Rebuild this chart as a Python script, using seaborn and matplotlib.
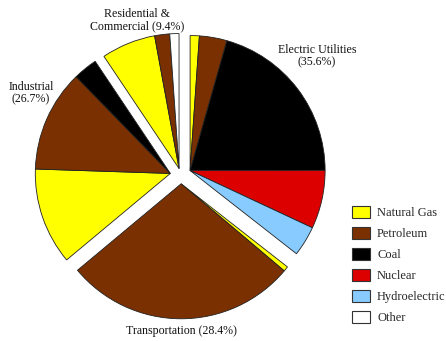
import numpy as np
import matplotlib
matplotlib.use("Agg")
import matplotlib.pyplot as plt
from matplotlib.patches import Patch
import seaborn as sns

sns.set_theme(style="white")
plt.rcParams['font.family'] = ['Liberation Serif', 'DejaVu Serif']

# ---- data ----
sources = ["Natural Gas", "Petroleum", "Coal", "Nuclear", "Hydroelectric", "Other"]
source_colors = ["#FFFF00", "#7A3000", "#000000", "#DD0000", "#88CCFF", "#FFFFFF"]

sectors = ["Electric Utilities", "Transportation", "Industrial", "Residential & Commercial"]
sector_labels = ["Electric Utilities\n(35.6%)", "Transportation (28.4%)",
                 "Industrial\n(26.7%)", "Residential &\nCommercial (9.4%)"]
electric = [1.1, 3.3, 20.6, 7.0, 3.6, 0.0]
transportation = [0.6, 27.8, 0.0, 0.0, 0.0, 0.0]
industrial = [11.6, 12.2, 2.9, 0.0, 0.0, 0.0]
residential = [6.5, 1.8, 0.0, 0.0, 0.0, 1.1]
sector_values = [electric, transportation, industrial, residential]

# ---- figure ----
W, H = 446, 341
fig = plt.figure(figsize=(W / 100, H / 100), dpi=100)
ax = fig.add_axes([0, 0, 1, 1])
R = 135.0
cx, cy = 181.0, 175.0

vals, cols, parent = [], [], []
for si, sv in enumerate(sector_values):
    for j, v in enumerate(sv):
        if v > 0:
            vals.append(v)
            cols.append(source_colors[j])
            parent.append(si)

wedges, _ = ax.pie(vals, colors=cols, startangle=90, counterclock=False,
                   radius=1.0, center=(0, 0), frame=True,
                   wedgeprops=dict(edgecolor="#222222", linewidth=0.6))
ax.set_xlim(-cx / R, (W - cx) / R)
ax.set_ylim(-(H - cy) / R, cy / R)
ax.set_axis_off()

# explode each sector as a group
totals = [sum(s) for s in sector_values]
grand = sum(totals)
mids = []
cum = 0.0
for t in totals:
    mids.append(np.deg2rad(90 - 360 * (cum + t / 2) / grand))
    cum += t
explode = [0.075, 0.065, 0.08, 0.05]
for w, p in zip(wedges, parent):
    d = explode[p]
    w.set_center((d * np.cos(mids[p]), d * np.sin(mids[p])))

# sector labels (pixel positions)
label_pos = [(317, 56), (181, 331), (31, 93), (137, 20)]
for lab, (px, py) in zip(sector_labels, label_pos):
    fig.text(px / W, 1 - py / H, lab, ha="center", va="center",
             fontsize=8.6, color="#111111", linespacing=1.05)

handles = [Patch(facecolor=c, edgecolor="#333333", linewidth=0.8) for c in source_colors]
leg = fig.legend(handles, sources, loc="upper left",
                 bbox_to_anchor=(352 / W, 1 - 206 / H), frameon=False,
                 fontsize=9, handlelength=1.45, handleheight=1.05,
                 handletextpad=0.55, labelspacing=0.64, borderaxespad=0,
                 borderpad=0)

fig.savefig("out.png", dpi=100)
